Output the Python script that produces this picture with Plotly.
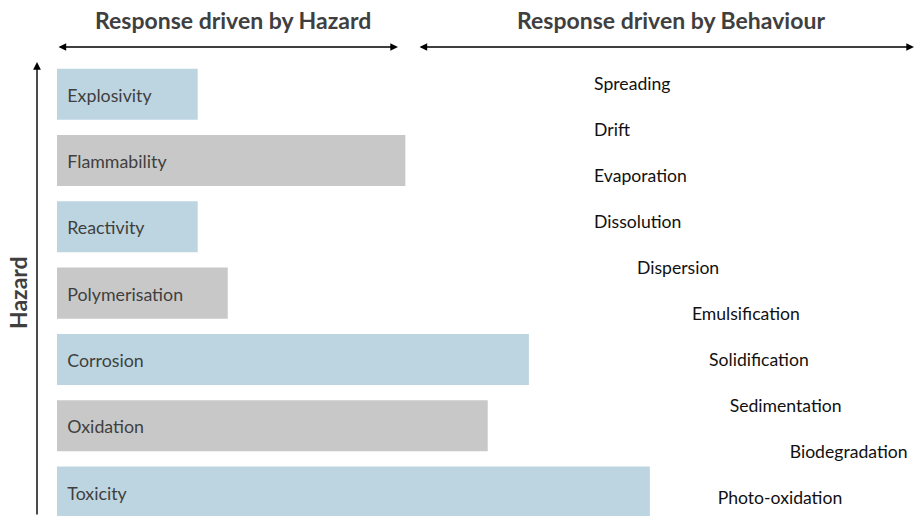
import plotly.graph_objects as go

# Hazard categories and their relative response scores (0-100 scale)
hazards = ["Explosivity", "Flammability", "Reactivity", "Polymerisation",
           "Corrosion", "Oxidation", "Toxicity"]
hazard_scores = [16.4, 40.6, 16.4, 19.9, 55.0, 50.2, 69.1]

# Behaviour-driven responses, each with its indent along the response axis
behaviours = ["Spreading", "Drift", "Evaporation", "Dissolution", "Dispersion",
              "Emulsification", "Solidification", "Sedimentation",
              "Biodegradation", "Photo-oxidation"]
behaviour_indent = [62.6, 62.6, 62.6, 62.6, 67.6, 74.0, 76.0, 78.4, 85.4, 77.0]

header_left = "Response driven by Hazard"
header_right = "Response driven by Behaviour"
axis_label = "Hazard"

BLUE = "#bdd5e0"
GREY = "#c8c8c8"
TEXT = "#3f3f3f"
FONT = "Lato, Open Sans, sans-serif"

bar_colors = [BLUE if i % 2 == 0 else GREY for i in range(len(hazards))]

fig = go.Figure()

fig.add_trace(go.Bar(
    y=hazards, x=hazard_scores, orientation="h",
    marker=dict(color=bar_colors, line=dict(width=0)),
    hoverinfo="skip", showlegend=False,
))

# Hazard names written inside the start of each bar
fig.add_trace(go.Scatter(
    y=hazards, x=[1.2] * len(hazards), mode="text", yaxis="y3",
    text=hazards, textposition="middle right",
    textfont=dict(family=FONT, size=17.8, color=TEXT),
    hoverinfo="skip", showlegend=False,
))

# Behaviour list on its own evenly spaced axis
fig.add_trace(go.Scatter(
    y=list(range(len(behaviours))), x=behaviour_indent, yaxis="y2",
    mode="text", text=behaviours, textposition="middle right",
    textfont=dict(family=FONT, size=17.6, color="#111111"),
    hoverinfo="skip", showlegend=False,
))

W, H = 915, 516
L, T = 57, 61


def px(xp):
    return (xp - L) / (W - L)


def py(yp):
    return (H - yp) / (H - T)


arrow = dict(showarrow=True, arrowhead=2, arrowsize=1.1, arrowwidth=1.4,
             arrowcolor="#000000", text="", xref="paper", yref="paper")
label = dict(xref="paper", yref="paper", showarrow=False,
             xanchor="center", yanchor="middle")

annotations = [
    dict(label, x=px(233), y=py(20), text=f"<b>{header_left}</b>",
         font=dict(family=FONT, size=23, color=TEXT)),
    dict(label, x=px(671), y=py(20), text=f"<b>{header_right}</b>",
         font=dict(family=FONT, size=23, color=TEXT)),
    dict(label, x=px(18), y=py(293), textangle=-90, text=f"<b>{axis_label}</b>",
         font=dict(family=FONT, size=23, color=TEXT)),
    dict(arrow, x=px(398), y=py(47), ax=-(398 - 57), ay=0, arrowside="end+start"),
    dict(arrow, x=px(915), y=py(47), ax=-(915 - 418), ay=0, arrowside="end+start"),
    dict(arrow, x=px(37), y=py(62), ax=0, ay=516 - 62),
]

fig.update_layout(
    width=W, height=H,
    margin=dict(l=L, r=0, t=T, b=0),
    paper_bgcolor="white", plot_bgcolor="white",
    bargap=0.23,
    xaxis=dict(range=[0, 100], visible=False, fixedrange=True),
    yaxis=dict(range=[6.36, -0.5], visible=False, fixedrange=True),
    yaxis3=dict(range=[6.315, -0.545], overlaying="y", visible=False, fixedrange=True),
    yaxis2=dict(range=[9.367, -0.543], overlaying="y", visible=False, fixedrange=True),
    annotations=annotations,
)

fig.write_html("out.html")
